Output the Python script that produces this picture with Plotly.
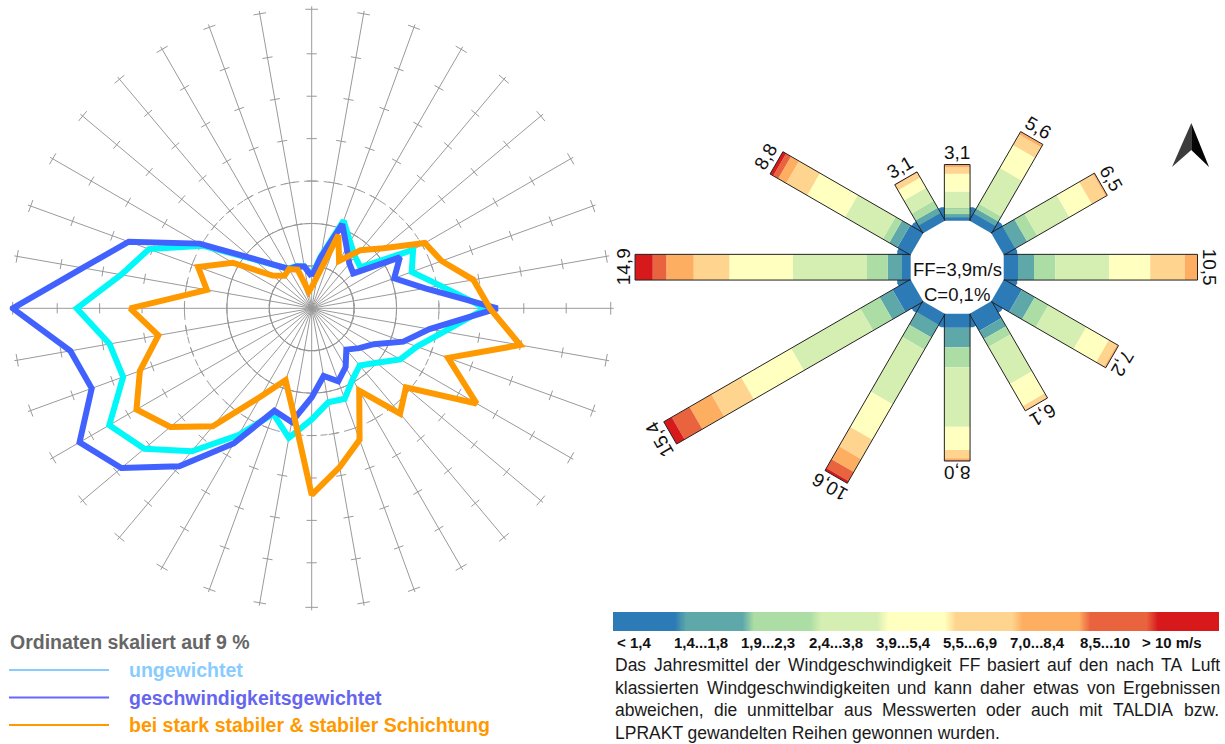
import math
import plotly.graph_objects as go

# ---------------- left: wind rose lines (radial unit = one scale division) ----------------
directions = list(range(0, 360, 10))
ungewichtet = [0.78, 1.25, 2.20, 1.81, 1.59, 1.50, 2.76, 2.51, 3.08, 4.10, 3.17, 2.64,
               2.41, 2.00, 1.76, 1.93, 2.27, 2.25, 2.62, 3.10, 2.65, 3.45, 4.40, 5.15,
               5.51, 4.73, 4.84, 5.54, 4.56, 4.08, 2.95, 1.80, 1.32, 1.08, 1.06, 1.00]
geschwindigkeitsgewichtet = [0.75, 1.22, 2.11, 1.65, 1.38, 1.28, 2.40, 2.07, 2.72, 4.38, 2.82, 2.30,
                             1.69, 1.46, 1.27, 1.60, 1.83, 1.62, 2.10, 2.72, 2.57, 3.68, 4.86, 5.86,
                             6.32, 5.52, 5.78, 7.05, 5.48, 4.59, 3.05, 1.83, 1.33, 1.07, 1.05, 1.00]
stabil = [0.50, 0.77, 1.84, 1.29, 1.79, 2.20, 3.08, 3.26, 3.87, 4.20, 4.99, 3.42,
          4.49, 2.90, 3.24, 2.24, 3.30, 3.80, 4.40, 2.50, 1.80, 2.40, 3.63, 4.35,
          4.77, 4.31, 3.67, 4.28, 2.51, 2.85, 2.15, 1.20, 1.00, 1.07, 0.97, 0.40]
scale_ticks = [1, 2, 3, 4, 5, 6]
series_names = ["ungewichtet", "geschwindigkeitsgewichtet",
                "bei stark stabiler & stabiler Schichtung"]

# ---------------- right: wind speed rose (frequency in % per speed class) ----------------
rose_dirs = [0, 30, 60, 90, 120, 150, 180, 210, 240, 270, 300, 330]
speed_classes = ["< 1,4", "1,4...1,8", "1,9...2,3", "2,4...3,8", "3,9...5,4",
                 "5,5...6,9", "7,0...8,4", "8,5...10", "> 10 m/s"]
class_freq = [
    [0.25, 0.18, 0.32, 0.90, 0.95, 0.36, 0.10, 0.03, 0.01],
    [0.52, 0.29, 0.31, 2.23, 1.42, 0.65, 0.16, 0.02, 0.00],
    [0.78, 0.75, 0.62, 2.00, 1.40, 0.85, 0.10, 0.00, 0.00],
    [0.85, 0.86, 1.14, 2.89, 2.22, 1.85, 0.69, 0.00, 0.00],
    [1.20, 0.80, 0.85, 2.35, 1.40, 0.50, 0.10, 0.00, 0.00],
    [1.14, 0.50, 0.50, 2.30, 1.37, 0.25, 0.04, 0.00, 0.00],
    [0.83, 1.06, 1.07, 3.20, 1.25, 0.44, 0.11, 0.04, 0.00],
    [0.75, 0.80, 0.75, 3.40, 2.20, 1.20, 0.80, 0.55, 0.15],
    [1.20, 0.80, 1.20, 4.30, 3.10, 1.85, 1.35, 1.10, 0.50],
    [0.55, 0.77, 1.11, 3.98, 3.42, 1.92, 1.47, 0.73, 0.95],
    [0.90, 0.50, 0.40, 2.35, 2.35, 1.30, 0.50, 0.30, 0.20],
    [0.55, 0.33, 0.42, 0.82, 0.63, 0.30, 0.03, 0.01, 0.01],
]
ff_mean = "3,9"
calm = "0,1"

paragraph = ["Das Jahresmittel der Windgeschwindigkeit FF basiert auf den nach TA Luft",
             "klassierten Windgeschwindigkeiten und kann daher etwas von Ergebnissen",
             "abweichen, die unmittelbar aus Messwerten oder auch mit TALDIA bzw.",
             "LPRAKT gewandelten Reihen gewonnen wurden."]

class_colors = ["#2c7bb6", "#5fa8aa", "#abdda4", "#d5eeb1", "#ffffbf",
                "#fed48e", "#fdae61", "#e9633f", "#d7191c"]
line_colors = ["#00f8f8", "#4262ff", "#ff9900"]
legend_colors = ["#88ccff", "#6666ff", "#ff9900"]
legend_text_colors = ["#88ccff", "#6565f0", "#ff9900"]

FONT = "Liberation Sans, Arial, sans-serif"
W, H = 1225, 744

fig = go.Figure()

# ---------- left polar chart ----------
PCX, PCY, PR = 311.7, 308.3, 302.0
RMAX = 7.12

ring_t = list(range(0, 361, 2))
fig.add_trace(go.Scatterpolar(r=[3] * len(ring_t), theta=ring_t, mode="lines",
                              line=dict(color="#9a9a9a", width=1, dash="7px,5px"),
                              hoverinfo="skip", showlegend=False))
tr, tt = [], []
for th in directions:
    for rv in scale_ticks + [7.05]:
        h = 0.15 if rv > 6.5 else 0.12
        rr = math.hypot(rv, h)
        dth = math.degrees(math.atan(h / rv))
        tr += [rr, rr, None]
        tt += [th - dth, th + dth, None]
fig.add_trace(go.Scatterpolar(r=tr, theta=tt, mode="lines",
                              line=dict(color="#9a9a9a", width=1),
                              hoverinfo="skip", showlegend=False, connectgaps=False))

for vals, col, name in zip([ungewichtet, geschwindigkeitsgewichtet, stabil], line_colors, series_names):
    fig.add_trace(go.Scatterpolar(r=vals + vals[:1], theta=directions + directions[:1],
                                  mode="lines", name=name,
                                  line=dict(color=col, width=6), showlegend=False))

fig.update_layout(polar=dict(
    domain=dict(x=[(PCX - PR) / W, (PCX + PR) / W],
                y=[(H - PCY - PR) / H, (H - PCY + PR) / H]),
    bgcolor="rgba(0,0,0,0)",
    radialaxis=dict(range=[0, RMAX], tickvals=[1, 2], showticklabels=False, ticks="",
                    showline=False, gridcolor="#8a8a8a", gridwidth=1),
    angularaxis=dict(rotation=90, direction="clockwise", tickvals=directions,
                     showticklabels=False, ticks="", showline=False,
                     gridcolor="#9a9a9a", gridwidth=1),
))

# ---------- right chart (pixel axes) ----------
CX, CY = 957.2, 267.2
R0, K, HW = 45.0, 18.6, 12.85
INNER, RING = 46.5, 60.0


def pt(b, r, s=0.0):
    a = math.radians(b)
    ux, uy = math.sin(a), -math.cos(a)
    nx, ny = math.cos(a), math.sin(a)
    return CX + ux * r + nx * s, CY + uy * r + ny * s


def dodecagon(inr):
    cr = inr / math.cos(math.radians(15))
    xs, ys = [], []
    for k in range(13):
        x, y = pt(15 + 30 * k, cr)
        xs.append(x)
        ys.append(y)
    return xs, ys


xs, ys = dodecagon(RING)
fig.add_trace(go.Scatter(x=xs, y=ys, fill="toself", fillcolor=class_colors[0], mode="none",
                         hoverinfo="skip", showlegend=False))

for j, col in enumerate(class_colors):
    qx, qy = [], []
    for b, fr in zip(rose_dirs, class_freq):
        lo = R0 + K * sum(fr[:j])
        hi = R0 + K * sum(fr[:j + 1])
        if fr[j] <= 0:
            continue
        for r, s in [(lo, HW), (hi, HW), (hi, -HW), (lo, -HW), (lo, HW)]:
            x, y = pt(b, r, s)
            qx.append(x)
            qy.append(y)
        qx.append(None)
        qy.append(None)
    fig.add_trace(go.Scatter(x=qx, y=qy, fill="toself", fillcolor=col, mode="lines",
                             line=dict(width=0, color=col), hoverinfo="skip",
                             showlegend=False, name=speed_classes[j]))

ox, oy = [], []
for b, fr in zip(rose_dirs, class_freq):
    end = R0 + K * sum(fr)
    for r, s in [(R0, HW), (end, HW), (end, -HW), (R0, -HW)]:
        x, y = pt(b, r, s)
        ox.append(x)
        oy.append(y)
    ox.append(None)
    oy.append(None)
fig.add_trace(go.Scatter(x=ox, y=oy, mode="lines", line=dict(color="#222222", width=1),
                         hoverinfo="skip", showlegend=False))

xs, ys = dodecagon(INNER)
fig.add_trace(go.Scatter(x=xs, y=ys, fill="toself", fillcolor="white", mode="none",
                         hoverinfo="skip", showlegend=False))

annotations = []
for b, fr in zip(rose_dirs, class_freq):
    tot = round(sum(fr), 1)
    x, y = pt(b, R0 + K * tot + 12)
    annotations.append(dict(x=x, y=y, xref="x", yref="y", text=f"{tot:.1f}".replace(".", ","),
                            textangle=b if b <= 180 else b - 360, showarrow=False,
                            font=dict(family=FONT, size=19, color="#111111")))
annotations.append(dict(x=CX, y=CY + 2, xref="x", yref="y", text=f"FF={ff_mean}m/s", showarrow=False,
                        font=dict(family=FONT, size=18.5, color="#111111")))
annotations.append(dict(x=CX, y=CY + 27, xref="x", yref="y", text=f"C={calm}%", showarrow=False,
                        font=dict(family=FONT, size=18.5, color="#111111")))

# colour scale strip
reps = 6
cw = 606.0 / (len(class_colors) * reps)
zrow = [j for j in range(len(class_colors)) for _ in range(reps)]
cs = [[j / (len(class_colors) - 1), c] for j, c in enumerate(class_colors)]
fig.add_trace(go.Heatmap(z=[zrow, zrow], x0=613 + cw / 2, dx=cw, y0=612 + 4.75, dy=9.5,
                         colorscale=cs, zmin=0, zmax=len(class_colors) - 1, zsmooth="best",
                         showscale=False, hoverinfo="skip"))
bw = 606.0 / len(class_colors)
for j, lab in enumerate(speed_classes):
    annotations.append(dict(x=613 + bw * (j + 0.5) - 13, y=642, xref="x", yref="y", text=f"<b>{lab}</b>",
                            showarrow=False, font=dict(family=FONT, size=15, color="#111111")))

# justified paragraph (Arial / Liberation Sans advance widths, 1/1000 em)
AW = {' ': 278, ',': 278, '.': 278, '-': 333, '/': 278}
AW.update({c: 556 for c in "0123456789"})
AW.update(dict(zip("ABCDEFGHIJKLMNOPQRSTUVWXYZ",
                   [667, 667, 722, 722, 667, 611, 778, 722, 278, 500, 667, 556, 833,
                    722, 778, 667, 778, 722, 667, 611, 722, 667, 944, 667, 667, 611])))
AW.update(dict(zip("abcdefghijklmnopqrstuvwxyz",
                   [556, 556, 500, 556, 556, 278, 556, 556, 222, 222, 500, 222, 833,
                    556, 556, 556, 556, 333, 500, 278, 556, 500, 722, 500, 500, 500])))


def tw(s, size):
    return sum(AW.get(c, 556) for c in s) * size / 1000.0


PSIZE = 17.5
PX0, PX1 = 613.0, 1218.0
for i, line in enumerate(paragraph):
    yy = 665 + 22.7 * i
    words = line.split(" ")
    if i == len(paragraph) - 1:
        annotations.append(dict(x=PX0, y=yy, xref="x", yref="y", text=line, xanchor="left",
                                showarrow=False, font=dict(family=FONT, size=PSIZE, color="#1a1a1a")))
        continue
    widths = [tw(w_, PSIZE) for w_ in words]
    gap = (PX1 - PX0 - sum(widths)) / (len(words) - 1)
    x = PX0
    for w_, wd in zip(words, widths):
        annotations.append(dict(x=x, y=yy, xref="x", yref="y", text=w_, xanchor="left",
                                showarrow=False, font=dict(family=FONT, size=PSIZE, color="#1a1a1a")))
        x += wd + gap

# legend (left bottom)
annotations.append(dict(x=8, y=642, xref="x", yref="y", text="<b>Ordinaten skaliert auf 9 %</b>",
                        xanchor="left", showarrow=False, font=dict(family=FONT, size=19.5, color="#666666")))
shapes = []
for i, (name, lc, tc) in enumerate(zip(series_names, legend_colors, legend_text_colors)):
    yy = 670 + 27.5 * i
    shapes.append(dict(type="line", xref="x", yref="y", x0=9, x1=109, y0=yy, y1=yy,
                       line=dict(color=lc, width=2)))
    annotations.append(dict(x=127, y=yy, xref="x", yref="y", text=f"<b>{name}</b>", xanchor="left",
                            showarrow=False, font=dict(family=FONT, size=19.5, color=tc)))

# north arrow
shapes.append(dict(type="path", xref="x", yref="y", path="M 1191.3 123 L 1172 167 L 1191.3 150 Z",
                   fillcolor="#3c3c3c", line=dict(width=0)))
shapes.append(dict(type="path", xref="x", yref="y", path="M 1191.3 123 L 1191.3 150 L 1209 167 Z",
                   fillcolor="#050505", line=dict(width=0)))

fig.update_layout(
    width=W, height=H, margin=dict(l=0, r=0, t=0, b=0),
    paper_bgcolor="white", plot_bgcolor="rgba(0,0,0,0)",
    xaxis=dict(range=[0, W], visible=False, domain=[0, 1], fixedrange=True),
    yaxis=dict(range=[H, 0], visible=False, domain=[0, 1], fixedrange=True),
    annotations=annotations, shapes=shapes, showlegend=False,
)

fig.write_html("out.html", config={"displayModeBar": False},
               post_script="document.body.style.margin='0';document.documentElement.style.overflow='hidden';")
